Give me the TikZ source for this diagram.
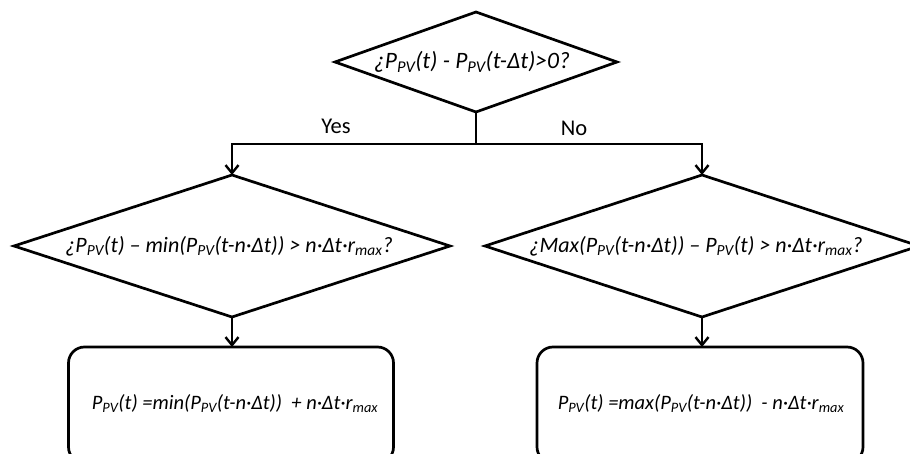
\documentclass[tikz,border=0pt]{standalone}
\usepackage{fontspec}
\setmainfont{Carlito}
\usetikzlibrary{shapes.geometric,arrows.meta}
\newcommand\sbs[1]{\textsubscript{#1}}
\tikzset{
  dia/.style={diamond, draw, line width=2.7pt, inner sep=0pt, outer sep=0pt},
  resbox/.style={rectangle, rounded corners=16pt, draw, line width=2.7pt, inner sep=0pt, outer sep=0pt},
  formula/.style={font=\fontsize{#1}{#1}\selectfont\itshape, inner sep=0pt},
  formula/.default=21,
  lbl/.style={font=\fontsize{22.5}{24}\selectfont, inner sep=0pt},
  conn/.style={line width=2.7pt},
  arr/.style={conn, -{Straight Barb[length=8pt,width=13pt,line width=2.4pt]}}
}
\begin{document}
\begin{tikzpicture}[x=1pt,y=-1pt]
\useasboundingbox (0,0) rectangle (910,454);
\node[dia, minimum width=282pt, minimum height=100pt] (d0) at (476,62) {};
\node[formula=23.5] (t0) at (472,62) {¿P\sbs{PV}(t) - P\sbs{PV}(t-Δt)>0?};
\node[dia, minimum width=436pt, minimum height=142pt] (d1) at (232,246) {};
\node[formula=22] (t1) at (229,246) {¿P\sbs{PV}(t) – min(P\sbs{PV}(t-n·Δt)) > n·Δt·r\sbs{max}?};
\node[dia, minimum width=434pt, minimum height=142pt] (d2) at (702,246) {};
\node[formula=22] (t2) at (696,246) {¿Max(P\sbs{PV}(t-n·Δt)) – P\sbs{PV}(t) > n·Δt·r\sbs{max}?};
\node[resbox, minimum width=325pt, minimum height=116pt, anchor=north] (b1) at (231,347) {};
\node[formula=20.5] (tb1) at (235,404) {P\sbs{PV}(t) =min(P\sbs{PV}(t-n·Δt))~~+ n·Δt·r\sbs{max}};
\node[resbox, minimum width=326pt, minimum height=116pt, anchor=north] (b2) at (700,347) {};
\node[formula=20.5] (tb2) at (701,404) {P\sbs{PV}(t) =max(P\sbs{PV}(t-n·Δt))~~- n·Δt·r\sbs{max}};
\coordinate (j) at (476,144);
\draw[conn] (d0.south) -- (j);
\draw[arr] (j) -| (d1.north);
\draw[arr] (j) -| (d2.north);
\draw[arr] (d1.south) -- (d1.south |- b1.north);
\draw[arr] (d2.south) -- (d2.south |- b2.north);
\node[lbl] (yes) at (336,126) {Yes};
\node[lbl] (no) at (574,128) {No};
\end{tikzpicture}
\end{document}
